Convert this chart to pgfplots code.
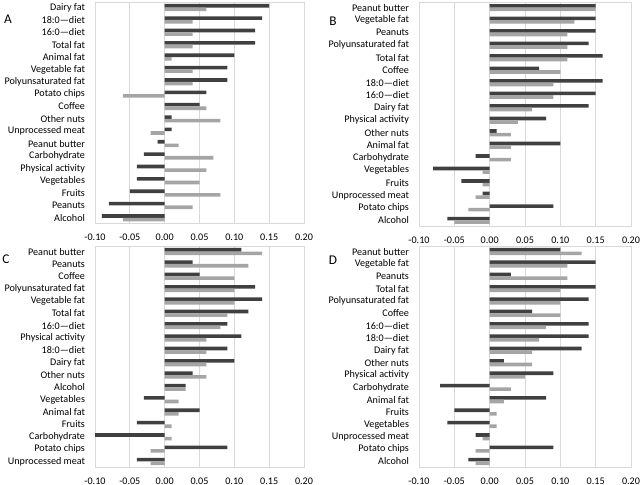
\documentclass[border=0pt]{standalone}
\usepackage{fontspec}
\setmainfont{Carlito}
\usepackage{pgfplots}
\usepackage{pgfplotstable}
\pgfplotsset{compat=1.18}
\definecolor{darkbar}{HTML}{404040}
\definecolor{lightbar}{HTML}{A5A5A5}
\definecolor{gridgray}{HTML}{D9D9D9}

\pgfplotstableread[col sep=comma]{
label,dark,light
Dairy fat,0.15,0.06
18:0—diet,0.14,0.04
16:0—diet,0.13,0.04
Total fat,0.13,0.04
Animal fat,0.10,0.01
Vegetable fat,0.09,0.04
Polyunsaturated fat,0.09,0.04
Potato chips,0.06,-0.06
Coffee,0.05,0.06
Other nuts,0.01,0.08
Unprocessed meat,0.01,-0.02
Peanut butter,-0.01,0.02
Carbohydrate,-0.03,0.07
Physical activity,-0.04,0.06
Vegetables,-0.04,0.05
Fruits,-0.05,0.08
Peanuts,-0.08,0.04
Alcohol,-0.09,-0.06
}\tabA

\pgfplotstableread[col sep=comma]{
label,dark,light
Peanut butter,0.15,0.15
Vegetable fat,0.15,0.12
Peanuts,0.15,0.11
Polyunsaturated fat,0.14,0.11
Total fat,0.16,0.11
Coffee,0.07,0.10
18:0—diet,0.16,0.09
16:0—diet,0.15,0.09
Dairy fat,0.14,0.06
Physical activity,0.08,0.04
Other nuts,0.01,0.03
Animal fat,0.10,0.03
Carbohydrate,-0.02,0.03
Vegetables,-0.08,-0.01
Fruits,-0.04,-0.01
Unprocessed meat,-0.01,-0.02
Potato chips,0.09,-0.03
Alcohol,-0.06,-0.05
}\tabB

\pgfplotstableread[col sep=comma]{
label,dark,light
Peanut butter,0.11,0.14
Peanuts,0.04,0.12
Coffee,0.05,0.10
Polyunsaturated fat,0.13,0.10
Vegetable fat,0.14,0.10
Total fat,0.12,0.09
16:0—diet,0.09,0.08
Physical activity,0.11,0.06
18:0—diet,0.09,0.06
Dairy fat,0.10,0.06
Other nuts,0.04,0.06
Alcohol,0.03,0.03
Vegetables,-0.03,0.02
Animal fat,0.05,0.02
Fruits,-0.04,0.01
Carbohydrate,-0.10,0.01
Potato chips,0.09,-0.02
Unprocessed meat,-0.04,-0.02
}\tabC

\pgfplotstableread[col sep=comma]{
label,dark,light
Peanut butter,0.10,0.13
Vegetable fat,0.15,0.11
Peanuts,0.03,0.11
Total fat,0.15,0.10
Polyunsaturated fat,0.14,0.10
Coffee,0.06,0.10
16:0—diet,0.14,0.08
18:0—diet,0.14,0.07
Dairy fat,0.13,0.06
Other nuts,0.02,0.06
Physical activity,0.09,0.05
Carbohydrate,-0.07,0.03
Animal fat,0.08,0.02
Fruits,-0.05,0.01
Vegetables,-0.06,0.01
Unprocessed meat,-0.02,-0.01
Potato chips,0.09,-0.02
Alcohol,-0.03,-0.02
}\tabD

\pgfplotsset{
  panel/.style={
    scale only axis,
    width=158pt, height=166pt,
    anchor=north west,
    xbar, bar width=2.7pt,
    xmin=-0.1, xmax=0.2,
    ymin=-0.45, ymax=17.45, y dir=reverse,
    xtick={-0.1,-0.05,0,0.05,0.1,0.15,0.2},
    xticklabels={-0.10,-0.05,0.00,0.05,0.10,0.15,0.20},
    ytick={0,...,17},
    xmajorgrids,
    grid style={draw=gridgray, line width=0.6pt},
    axis line style={draw=gridgray, line width=0.6pt},
    major tick length=0pt,
    tick style={draw=none},
    font=\fontsize{7.6}{9}\selectfont,
    yticklabel style={xshift=-4pt, font=\fontsize{7.6}{9}\selectfont},
    xticklabel style={yshift=-4.5pt, font=\fontsize{7.6}{9}\selectfont},
  },
  darkplot/.style={fill=darkbar, draw=none, bar shift=1.35pt},
  lightplot/.style={fill=lightbar, draw=none, bar shift=-1.35pt},
}

\begin{document}
\begin{tikzpicture}
\useasboundingbox (0,0) rectangle (481.5pt,-363.75pt);

\begin{axis}[panel, at={(71.25pt,-1.5pt)}, width=156.75pt,
  yticklabels from table={\tabA}{label}]
  \addplot[darkplot] table[x=dark, y expr=\coordindex] {\tabA};
  \addplot[lightplot] table[x=light, y expr=\coordindex] {\tabA};
\end{axis}

\begin{axis}[panel, at={(314.25pt,-1.5pt)}, width=159pt, height=168pt,
  yticklabels from table={\tabB}{label}]
  \addplot[darkplot] table[x=dark, y expr=\coordindex] {\tabB};
  \addplot[lightplot] table[x=light, y expr=\coordindex] {\tabB};
\end{axis}

\begin{axis}[panel, at={(71.25pt,-184.5pt)}, width=156.75pt, height=165.75pt,
  yticklabels from table={\tabC}{label}]
  \addplot[darkplot] table[x=dark, y expr=\coordindex] {\tabC};
  \addplot[lightplot] table[x=light, y expr=\coordindex] {\tabC};
\end{axis}

\begin{axis}[panel, at={(314.25pt,-184.5pt)}, width=159pt, height=165.75pt,
  yticklabels from table={\tabD}{label}]
  \addplot[darkplot] table[x=dark, y expr=\coordindex] {\tabD};
  \addplot[lightplot] table[x=light, y expr=\coordindex] {\tabD};
\end{axis}

\node[font=\fontsize{10}{12}\selectfont] at (6pt,-14.25pt) {A};
\node[font=\fontsize{10}{12}\selectfont] at (249.75pt,-15.75pt) {B};
\node[font=\fontsize{10}{12}\selectfont] at (4.5pt,-194.25pt) {C};
\node[font=\fontsize{10}{12}\selectfont] at (249.75pt,-195pt) {D};
\end{tikzpicture}
\end{document}
